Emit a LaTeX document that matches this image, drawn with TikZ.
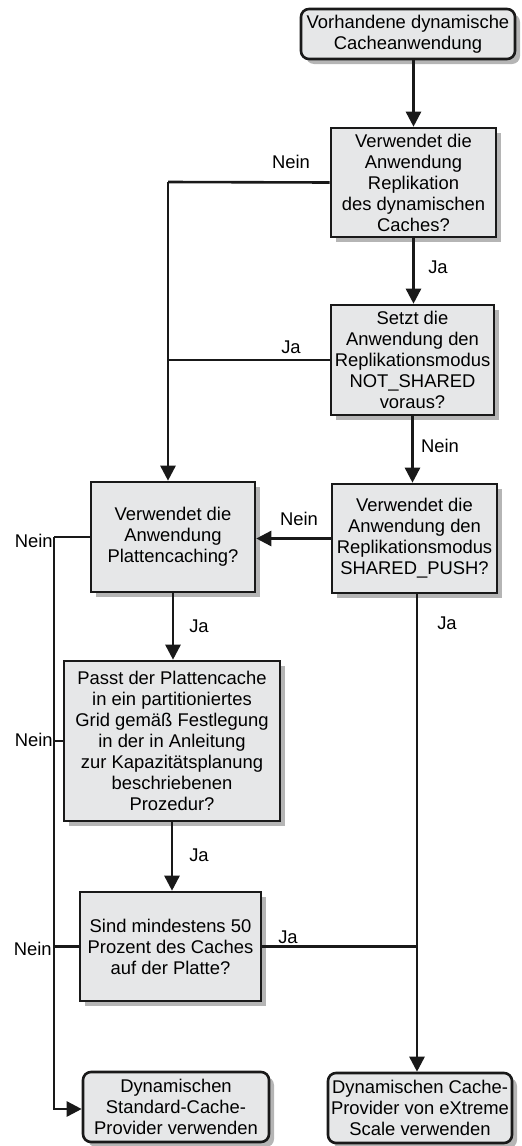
\documentclass[tikz,border=0pt]{standalone}
\usepackage{fontspec}
\setmainfont{Liberation Sans}
\usepackage{tikz}
\usetikzlibrary{positioning,calc,arrows.meta,shadows}
\definecolor{boxgray}{HTML}{E6E7E8}
\definecolor{shadegray}{HTML}{B5B5B5}

\tikzset{
  every node/.style={font=\fontsize{9.2}{10.5}\selectfont},
  qbox/.style={draw=black!90, line width=1.3pt, fill=boxgray, align=center,
    inner sep=1pt,
    drop shadow={shadow xshift=2.5pt, shadow yshift=-2.5pt, fill=shadegray, opacity=1}},
  endbox/.style={qbox, rounded corners=4pt},
  flow/.style={line width=1.3pt, draw=black!90},
  arr/.style={flow, -{Triangle[length=7.5pt,width=7.5pt]}},
}

\begin{document}
\begin{tikzpicture}[x=0.5pt,y=-0.5pt]
      \useasboundingbox (0,0) rectangle (522,1146);
      % Start
      \node[endbox, minimum width=107pt, minimum height=25pt] (start) at (408,34)
        {Vorhandene dynamische\\Cacheanwendung};
      % Questions
      \node[qbox, minimum width=82.5pt, minimum height=54.5pt] (repl) at (413.5,182.5)
        {Verwendet die\\Anwendung\\Replikation\\des dynamischen\\Caches?};
      \node[qbox, minimum width=81.5pt, minimum height=55pt] (notshared) at (412.5,360)
        {Setzt die\\Anwendung den\\Replikationsmodus\\NOT\_SHARED\\voraus?};
      \node[qbox, minimum width=82pt, minimum height=55pt] (disk) at (173,537)
        {Verwendet die\\Anwendung\\Plattencaching?};
      \node[qbox, minimum width=82.5pt, minimum height=54.5pt] (push) at (414.5,538.5)
        {Verwendet die\\Anwendung den\\Replikationsmodus\\SHARED\_PUSH?};
      \node[qbox, minimum width=108pt, minimum height=80pt] (grid) at (172,741)
        {Passt der Plattencache\\in ein partitioniertes\\Grid gemäß Festlegung\\in der in Anleitung\\zur Kapazitätsplanung\\beschriebenen\\Prozedur?};
      \node[qbox, minimum width=90.5pt, minimum height=54.5pt] (half) at (170.5,946.5)
        {Sind mindestens 50\\Prozent des Caches\\auf der Platte?};
      % Results
      \node[endbox, minimum width=93pt, minimum height=35pt] (std) at (176,1107)
        {Dynamischen\\Standard-Cache-\\Provider verwenden};
      \node[endbox, minimum width=92pt, minimum height=35pt] (xs) at (420,1108)
        {Dynamischen Cache-\\Provider von eXtreme\\Scale verwenden};

      % Junctions
      \coordinate (jleft) at (168,182);
      \coordinate (jright) at (417,949);
      \coordinate (jnein) at (54,537);
      \coordinate (jbot) at (54,1109);

      % Connectors
      \draw[arr] (start.south -| repl.north) -- (repl.north);
      \draw[arr] (repl.south) -- (repl.south |- notshared.north);
      \draw[flow] (repl.west) -- (jleft);
      \draw[arr] (jleft) -- (jleft |- disk.north);
      \draw[flow] (notshared.west) -- (notshared.west -| jleft);
      \draw[arr] (notshared.south) -- (notshared.south |- push.north);
      \draw[arr] (push.west) -- (push.west -| disk.east);
      \draw[arr] (disk.south) -- (disk.south |- grid.north);
      \draw[arr] (grid.south) -- (grid.south |- half.north);
      \draw[flow] (disk.west) -- (jnein);
      \draw[arr] (jnein) -- (jbot) -- (jbot -| std.west);
      \draw[flow] (grid.west) -- (grid.west -| jnein);
      \draw[flow] (half.west) -- (half.west -| jnein);
      \draw[arr] (push.south -| jright) -- (jright |- xs.north);
      \draw[flow] (half.east) -- (half.east -| jright);

      % Labels
      \node (l1) at (291,162) {Nein};
      \node (l2) at (438,267) {Ja};
      \node (l3) at (291,347) {Ja};
      \node (l4) at (440,446) {Nein};
      \node (l5) at (299,519) {Nein};
      \node[anchor=east, inner sep=0pt] (l6) at (53,541) {Nein};
      \node (l7) at (199,626) {Ja};
      \node (l8) at (447,623) {Ja};
      \node[anchor=east, inner sep=0pt] (l9) at (53,740) {Nein};
      \node (l10) at (199,855) {Ja};
      \node[anchor=east, inner sep=0pt] (l11) at (52,949) {Nein};
      \node (l12) at (288,937) {Ja};
    \end{tikzpicture}
\end{document}
